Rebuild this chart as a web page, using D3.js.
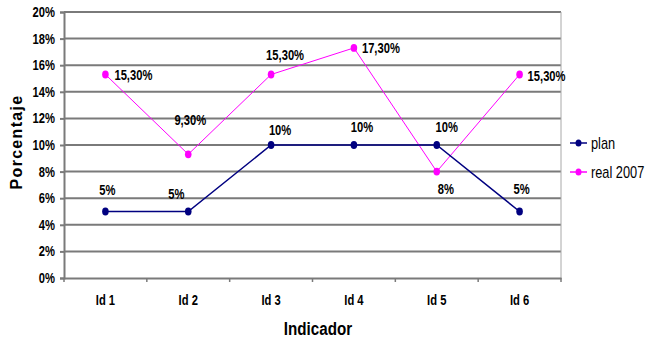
<!DOCTYPE html>
<html><head><meta charset="utf-8">
<script src="https://cdn.jsdelivr.net/npm/d3@7"></script>
<style>
body{margin:0;background:#fff;}
text{font-family:"Liberation Sans",Arial,sans-serif;}
</style></head>
<body><svg id="c" width="645" height="340"></svg>
<script>
const categories = ["Id 1","Id 2","Id 3","Id 4","Id 5","Id 6"];
const plan = [5,5,10,10,10,5];
const real2007 = [15.3,9.3,15.3,17.3,8,15.3];
const planLabels = ["5%","5%","10%","10%","10%","5%"];
const realLabels = ["15,30%","9,30%","15,30%","17,30%","8%","15,30%"];
const yTicks = [0,2,4,6,8,10,12,14,16,18,20];
const seriesNames = ["plan","real 2007"];

// label placement (layout, not data)
const planLblDx = [2,-12,9,8,10,2], planLblDy = [-17,-13,-10,-13,-13,-18];
const realAnchor = ["start","middle","middle","start","middle","start"];
const realLblDx = [9,2,14,8,9,8], realLblDy = [5.5,-29,-15,5,22.5,6];

const SX = 0.8; // horizontal compression (narrow font look)
const svg = d3.select("#c");
const L=64, R=561, T=12, B=278;
const x = d3.scaleBand().domain(categories).range([L,R]);
const y = d3.scaleLinear().domain([0,20]).range([B,T]);

function narrowText(sel, px, py, sx){
  sel.attr("transform",(d,i)=>`translate(${px(d,i)},${py(d,i)}) scale(${sx||SX},1)`).attr("x",0).attr("y",0);
}

// gridlines
svg.append("g").selectAll("line").data(yTicks.filter(d=>d>0)).join("line")
  .attr("x1",L).attr("x2",R).attr("y1",d=>y(d)).attr("y2",d=>y(d))
  .attr("stroke","#7a7a7a").attr("stroke-width",2);
// right border
svg.append("line").attr("x1",R).attr("x2",R).attr("y1",T).attr("y2",B)
  .attr("stroke","#a8a8a8").attr("stroke-width",1);

// y axis
const ya = svg.append("g").attr("transform",`translate(${L},0)`)
  .call(d3.axisLeft(y).tickValues(yTicks).tickFormat(d=>d+"%").tickSize(4).tickPadding(9));
ya.select(".domain").attr("stroke","#7a7a7a").attr("stroke-width",2);
ya.selectAll(".tick line").attr("stroke","#7a7a7a").attr("stroke-width",2);
ya.selectAll("text").attr("font-size",14).attr("font-weight","bold").attr("fill","#000")
  .attr("font-family","Liberation Sans, Arial, sans-serif")
  .attr("x",-9/SX).attr("transform",`scale(${SX},1)`);

// x axis
const xa = svg.append("g").attr("transform",`translate(0,${B})`)
  .call(d3.axisBottom(x).tickSize(0).tickFormat(""));
xa.select(".domain").attr("stroke","#7a7a7a").attr("stroke-width",2);
const seps = categories.map(c=>x(c)).concat([R]);
svg.append("g").selectAll("line").data(seps).join("line")
  .attr("x1",d=>d).attr("x2",d=>d).attr("y1",B).attr("y2",B+4)
  .attr("stroke","#7a7a7a").attr("stroke-width",1.5);

const cx = c => x(c)+x.bandwidth()/2;
narrowText(svg.append("g").selectAll("text").data(categories).join("text")
  .attr("font-size",14).attr("font-weight","bold").attr("text-anchor","middle").text(d=>d),
  d=>cx(d), d=>B+27);

const line = d3.line().x((d,i)=>cx(categories[i])).y(d=>y(d));

svg.append("path").datum(real2007).attr("d",line).attr("fill","none")
  .attr("stroke","#FF00FF").attr("stroke-width",1);
svg.append("path").datum(plan).attr("d",line).attr("fill","none")
  .attr("stroke","#000080").attr("stroke-width",1.5);

svg.append("g").selectAll("ellipse").data(real2007).join("ellipse")
  .attr("cx",(d,i)=>cx(categories[i])).attr("cy",d=>y(d)).attr("rx",3.3).attr("ry",3.9)
  .attr("fill","#FF00FF");
svg.append("g").selectAll("ellipse").data(plan).join("ellipse")
  .attr("cx",(d,i)=>cx(categories[i])).attr("cy",d=>y(d)).attr("rx",3.3).attr("ry",3.9)
  .attr("fill","#000080");

// plan labels
narrowText(svg.append("g").selectAll("text").data(plan).join("text")
  .attr("font-size",14).attr("font-weight","bold").attr("text-anchor","middle")
  .text((d,i)=>planLabels[i]),
  (d,i)=>cx(categories[i])+planLblDx[i], (d,i)=>y(d)+planLblDy[i]);
// real labels
narrowText(svg.append("g").selectAll("text").data(real2007).join("text")
  .attr("font-size",14).attr("font-weight","bold").attr("text-anchor",(d,i)=>realAnchor[i])
  .text((d,i)=>realLabels[i]),
  (d,i)=>cx(categories[i])+realLblDx[i], (d,i)=>y(d)+realLblDy[i]);

// axis titles
svg.append("text").attr("transform","translate(22,142) rotate(-90)")
  .attr("text-anchor","middle").attr("font-size",16).attr("font-weight","bold")
  .attr("letter-spacing",1.3).text("Porcentaje");
narrowText(svg.append("text").datum(0).attr("text-anchor","middle")
  .attr("font-size",19).attr("font-weight","bold").text("Indicador"), ()=>318, ()=>335);

// legend
const colors = ["#000080","#FF00FF"];
const lg = svg.append("g").selectAll("g").data(seriesNames).join("g")
  .attr("transform",(d,i)=>`translate(570,${143+i*29})`);
lg.append("line").attr("x1",0).attr("x2",17).attr("stroke",(d,i)=>colors[i]).attr("stroke-width",1.5);
lg.append("ellipse").attr("cx",8.5).attr("rx",3).attr("ry",3.6).attr("fill",(d,i)=>colors[i]);
lg.append("text").attr("transform",`translate(21,6) scale(0.8,1)`)
  .attr("font-size",16).attr("fill","#000").text(d=>d);
</script></body></html>
